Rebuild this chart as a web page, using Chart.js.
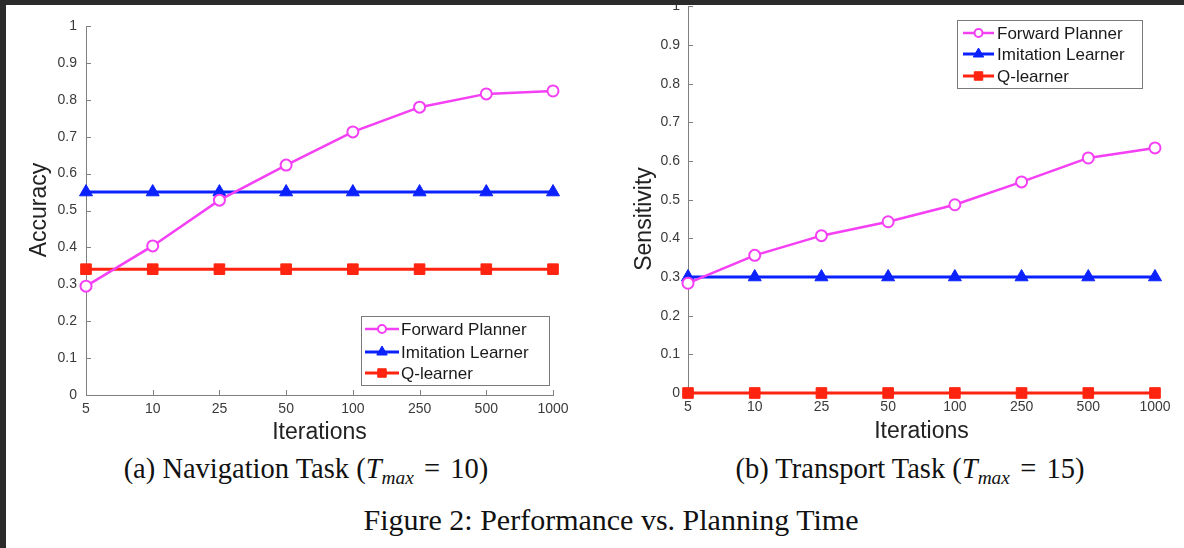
<!DOCTYPE html>
<html>
<head>
<meta charset="utf-8">
<script src="https://cdn.jsdelivr.net/npm/chart.js@4.4.1/dist/chart.umd.min.js"></script>
<style>
  html, body { margin: 0; padding: 0; background: #fff; }
  body { width: 1184px; height: 548px; position: relative; overflow: hidden; }
  .frameTop { position: absolute; left: 0; top: 0; width: 1184px; height: 5px; background: #2b2b2b; z-index: 5; }
  .frameLeft { position: absolute; left: 0; top: 0; width: 6px; height: 548px; background: #2b2b2b; z-index: 5; }
  canvas { position: absolute; }
  #navChart { left: 0; top: 0; }
  #transChart { left: 600px; top: -10px; }
  .cap { position: absolute; font-family: "Liberation Serif", "DejaVu Serif", serif; color: #111; text-align: center; white-space: nowrap; }
  .cap i { font-style: italic; }
  .cap sub { font-size: 0.68em; vertical-align: -0.3em; line-height: 0; }
  .eq { padding: 0 0.36em; }
</style>
</head>
<body>
<div class="frameTop"></div>
<div class="frameLeft"></div>
<canvas id="navChart" width="600" height="450"></canvas>
<canvas id="transChart" width="584" height="460"></canvas>

<div class="cap" style="left:0; width:612px; top:453px; font-size:28.5px;">(a) Navigation Task (<i>T</i><sub><i>max</i></sub><span class="eq">=</span>10)</div>
<div class="cap" style="left:636px; width:548px; top:453px; font-size:28.5px;">(b) Transport Task (<i>T</i><sub><i>max</i></sub><span class="eq">=</span>15)</div>
<div class="cap" style="left:0; width:1222px; top:503px; font-size:30px;">Figure 2: Performance vs. Planning Time</div>

<script>
// Planning budget (iterations) on a categorical axis
const iterations = ['5', '10', '25', '50', '100', '250', '500', '1000'];

// Navigation task: accuracy
const navForward   = [0.295, 0.404, 0.528, 0.623, 0.713, 0.780, 0.816, 0.824];
const navImitation = [0.550, 0.550, 0.550, 0.550, 0.550, 0.550, 0.550, 0.550];
const navQ         = [0.341, 0.341, 0.341, 0.341, 0.341, 0.341, 0.341, 0.341];

// Transport task: sensitivity
const trForward    = [0.284, 0.356, 0.407, 0.443, 0.487, 0.546, 0.608, 0.634];
const trImitation  = [0.300, 0.300, 0.300, 0.300, 0.300, 0.300, 0.300, 0.300];
const trQ          = [0.000, 0.000, 0.000, 0.000, 0.000, 0.000, 0.000, 0.000];

const seriesNames = ['Forward Planner', 'Imitation Learner', 'Q-learner'];

const MAGENTA = '#f43ff4';
const BLUE = '#0b22ff';
const RED = '#ff2410';
const FONT = '"Liberation Sans", Arial, sans-serif';

// small tick marks pointing into the plot area
const innerTicks = {
  id: 'innerTicks',
  beforeDatasetsDraw(chart, args, o) {
    const ctx = chart.ctx, a = chart.chartArea;
    const xs = chart.scales.x, ys = chart.scales.y;
    ctx.save();
    ctx.strokeStyle = o.color;
    ctx.lineWidth = 1;
    ctx.beginPath();
    xs.ticks.forEach((t, i) => {
      const px = Math.round(xs.getPixelForTick(i)) + 0.5;
      ctx.moveTo(px, a.bottom);
      ctx.lineTo(px, a.bottom - o.len);
    });
    ys.ticks.forEach((t, i) => {
      const py = Math.round(ys.getPixelForTick(i)) + 0.5;
      ctx.moveTo(a.left, py);
      ctx.lineTo(a.left + o.len, py);
    });
    ctx.stroke();
    ctx.restore();
  }
};

// rotated y-axis title
const yTitle = {
  id: 'yTitle',
  afterDraw(chart, args, o) {
    const ctx = chart.ctx;
    ctx.save();
    ctx.translate(o.x, o.y);
    ctx.rotate(-Math.PI / 2);
    ctx.font = o.size + 'px ' + FONT;
    ctx.fillStyle = '#222';
    ctx.textAlign = 'center';
    ctx.textBaseline = 'middle';
    ctx.fillText(o.text, 0, 0);
    ctx.restore();
  }
};

// boxed legend with line + marker samples
const boxLegend = {
  id: 'boxLegend',
  afterDraw(chart, args, o) {
    const ctx = chart.ctx;
    ctx.save();
    ctx.fillStyle = '#fff';
    ctx.fillRect(o.x, o.y, o.w, o.h);
    ctx.strokeStyle = '#7a7a7a';
    ctx.lineWidth = 1;
    ctx.strokeRect(o.x + 0.5, o.y + 0.5, o.w, o.h);
    chart.data.datasets.forEach((ds, i) => {
      const cy = o.rows[i];
      ctx.strokeStyle = ds.borderColor;
      ctx.lineWidth = ds.borderWidth;
      ctx.beginPath();
      ctx.moveTo(o.x0, cy);
      ctx.lineTo(o.x1, cy);
      ctx.stroke();
      ctx.fillStyle = ds.pointBackgroundColor;
      ctx.strokeStyle = ds.pointBorderColor;
      ctx.lineWidth = ds.pointBorderWidth;
      Chart.helpers.drawPoint(ctx, {
        pointStyle: ds.pointStyle,
        radius: o.markerRadius[i],
        borderWidth: ds.pointBorderWidth,
        rotation: 0
      }, (o.x0 + o.x1) / 2, cy);
      ctx.fillStyle = '#1a1a1a';
      ctx.font = o.size + 'px ' + FONT;
      ctx.textAlign = 'left';
      ctx.textBaseline = 'middle';
      ctx.fillText(ds.label, o.tx, cy + 1);
    });
    ctx.restore();
  }
};

function makeDatasets(f, im, q) {
  return [
    { label: seriesNames[0], data: f, borderColor: MAGENTA, borderWidth: 2.5,
      pointStyle: 'circle', pointRadius: 5.5, pointBorderWidth: 2,
      pointBackgroundColor: '#fff', pointBorderColor: MAGENTA, clip: false, order: 1 },
    { label: seriesNames[1], data: im, borderColor: BLUE, borderWidth: 3,
      pointStyle: 'triangle', pointRadius: 7.5, pointBorderWidth: 1,
      pointBackgroundColor: BLUE, pointBorderColor: BLUE, clip: false, order: 2 },
    { label: seriesNames[2], data: q, borderColor: RED, borderWidth: 3,
      pointStyle: 'rect', pointRadius: 7.5, pointBorderWidth: 1,
      pointBackgroundColor: RED, pointBorderColor: RED, clip: false, order: 3 }
  ];
}

function makeChart(id, datasets, cfg) {
  return new Chart(document.getElementById(id), {
    type: 'line',
    data: { labels: iterations, datasets },
    options: {
      responsive: false,
      animation: false,
      devicePixelRatio: 1,
      layout: { padding: cfg.padding },
      elements: { line: { tension: 0 } },
      plugins: {
        legend: { display: false },
        tooltip: { enabled: false },
        innerTicks: { len: 5, color: '#808080' },
        yTitle: cfg.yTitle,
        boxLegend: cfg.legend
      },
      scales: {
        x: {
          type: 'category',
          offset: false,
          afterFit(s) { s.height = cfg.xHeight; },
          grid: { display: true, drawOnChartArea: false, drawTicks: false },
          border: { display: true, color: '#808080', width: 1 },
          ticks: { color: '#3a3a3a', font: { family: FONT, size: 14 }, padding: 6, maxRotation: 0, autoSkip: false },
          title: { display: true, text: 'Iterations', color: '#222',
                   font: { family: FONT, size: 23, lineHeight: 1.2 }, padding: { top: 0, bottom: cfg.xTitlePad } }
        },
        y: {
          min: 0, max: 1,
          afterFit(s) { s.width = cfg.yWidth; },
          grid: { display: true, drawOnChartArea: false, drawTicks: false },
          border: { display: true, color: '#808080', width: 1 },
          ticks: { stepSize: 0.1, color: '#3a3a3a', font: { family: FONT, size: 14 }, padding: cfg.yTickPad,
                   callback: v => String(Number(v.toFixed(1))) }
        }
      }
    },
    plugins: [innerTicks, yTitle, boxLegend]
  });
}

makeChart('navChart', makeDatasets(navForward, navImitation, navQ), {
  padding: { left: 0, top: 26, right: 47, bottom: 3 },
  xHeight: 52, yWidth: 86, xTitlePad: 1, yTickPad: 9,
  yTitle: { text: 'Accuracy', x: 40, y: 210, size: 23 },
  legend: { x: 361, y: 316, w: 188, h: 69, rows: [329, 352, 373],
            x0: 365, x1: 399, tx: 401, size: 17, markerRadius: [4, 6, 6] }
});

makeChart('transChart', makeDatasets(trForward, trImitation, trQ), {
  padding: { left: 0, top: 15, right: 29, bottom: 5 },
  xHeight: 52, yWidth: 88, xTitlePad: 0, yTickPad: 8,
  yTitle: { text: 'Sensitivity', x: 45, y: 229, size: 23 },
  legend: { x: 357, y: 30, w: 185, h: 68, rows: [43, 64, 86],
            x0: 363, x1: 394, tx: 397, size: 17, markerRadius: [4, 6, 6] }
});
</script>
</body>
</html>
